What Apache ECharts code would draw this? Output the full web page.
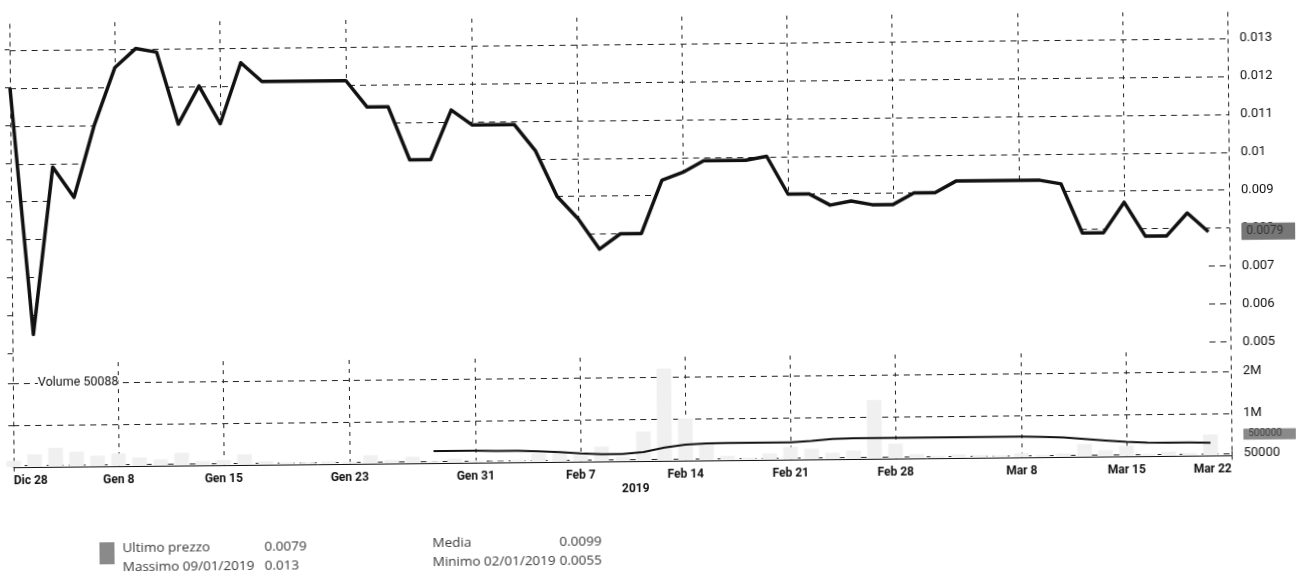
<!DOCTYPE html>
<html>
<head>
<meta charset="utf-8">
<script src="https://cdn.jsdelivr.net/npm/echarts@6/dist/echarts.min.js"></script>
<style>
  html, body { margin: 0; padding: 0; background: #fff; overflow: hidden; }
  /* the scanned original is slightly tilted */
  #chart { width: 1296px; height: 587px; transform: rotate(-0.56deg); transform-origin: 50% 50%; }
</style>
</head>
<body>
<div id="chart"></div>
<script>
// trading days shown on the category axis
const dates = [
  'Dic 28', 'Gen 2', 'Gen 3', 'Gen 4', 'Gen 7', 'Gen 8', 'Gen 9', 'Gen 10', 'Gen 11',
  'Gen 14', 'Gen 15', 'Gen 16', 'Gen 17', 'Gen 18', 'Gen 21', 'Gen 22', 'Gen 23', 'Gen 24',
  'Gen 25', 'Gen 28', 'Gen 29', 'Gen 30', 'Gen 31', 'Feb 1', 'Feb 4', 'Feb 5', 'Feb 6',
  'Feb 7', 'Feb 8', 'Feb 11', 'Feb 12', 'Feb 13', 'Feb 14', 'Feb 15', 'Feb 18', 'Feb 19',
  'Feb 20', 'Feb 21', 'Feb 22', 'Feb 25', 'Feb 26', 'Feb 27', 'Feb 28', 'Mar 1', 'Mar 4',
  'Mar 5', 'Mar 6', 'Mar 7', 'Mar 8', 'Mar 11', 'Mar 12', 'Mar 13', 'Mar 14', 'Mar 15',
  'Mar 18', 'Mar 19', 'Mar 20', 'Mar 21', 'Mar 22'
];

const prices = [
  0.0120, 0.0055, 0.0099, 0.0091, 0.0110, 0.0125, 0.0130, 0.0129, 0.0110,
  0.0120, 0.0110, 0.0126, 0.0121, 0.0121, 0.0121, 0.0121, 0.0121, 0.0114,
  0.0114, 0.0100, 0.0100, 0.0113, 0.0109, 0.0109, 0.0109, 0.0102, 0.0090,
  0.0084, 0.0076, 0.0080, 0.0080, 0.0094, 0.0096, 0.0099, 0.0099, 0.0099,
  0.0100, 0.0090, 0.0090, 0.0087, 0.0088, 0.0087, 0.0087, 0.0090, 0.0090,
  0.0093, 0.0093, 0.0093, 0.0093, 0.0093, 0.0092, 0.0079, 0.0079, 0.0087,
  0.0078, 0.0078, 0.0084, 0.0079, null
];

const volumes = [
  150000, 300000, 450000, 350000, 250000, 300000, 200000, 150000, 300000,
  100000, 120000, 250000, 80000, 50000, 40000, 60000, 50000, 200000,
  80000, 150000, 40000, 100000, 50000, 30000, 50000, 200000, 250000,
  150000, 350000, 100000, 700000, 2200000, 1000000, 400000, 100000, 50000,
  150000, 300000, 250000, 150000, 200000, 1400000, 350000, 100000, 50000,
  80000, 60000, 50000, 100000, 50000, 80000, 300000, 150000, 250000,
  50000, 100000, 60000, 500000, null
];

const volumeAvg = [
  null, null, null, null, null, null, null, null, null,
  null, null, null, null, null, null, null, null, null,
  null, null, 280000, 280000, 280000, 270000, 270000, 250000, 230000,
  190000, 170000, 170000, 210000, 310000, 380000, 400000, 410000, 410000,
  410000, 410000, 440000, 480000, 490000, 490000, 490000, 490000, 490000,
  490000, 490000, 490000, 490000, 480000, 460000, 420000, 380000, 340000,
  320000, 310000, 310000, 300000, null
];

const labelDays = ['Dic 28', 'Gen 8', 'Gen 15', 'Gen 23', 'Gen 31', 'Feb 7', 'Feb 14',
  'Feb 21', 'Feb 28', 'Mar 8', 'Mar 15', 'Mar 22'];
const priceTicks = [0.005, 0.006, 0.007, 0.008, 0.009, 0.01, 0.011, 0.012, 0.013];
const volumeTicks = [50000, 1000000, 2000000];
const lastPrice = 0.0079;
const lastVolume = volumes[57];

const statsLeft = [['Ultimo prezzo', '0.0079'], ['Massimo 09/01/2019', '0.013']];
const statsRight = [['Media', '0.0099'], ['Minimo 02/01/2019', '0.0055']];

const priceRange = [0.0048, 0.0137];
const volumeRange = [-100000, 2480000];

const narrow = '"Liberation Sans Narrow", Roboto, sans-serif';
const isLabelDay = (i) => labelDays.indexOf(dates[i]) >= 0;
const gridRight = 66;

const chart = echarts.init(document.getElementById('chart'));

const dashV = { color: '#222', width: 1, type: [4, 5] };
const crisp = (v) => Math.round(v) + 0.5;
const dashLine = (x1, y1, x2, y2, dash) => ({
  type: 'line', shape: { x1: x1, y1: y1, x2: x2, y2: y2 },
  style: { stroke: '#222', lineWidth: 1, lineDash: dash }
});

// price grid: in the original the grid only shows above the price line
const priceGrid = (params, api) => {
  const last = dates.length - 1;
  const children = [];
  priceTicks.forEach((v) => {
    const y = crisp(api.coord([0, v])[1]);
    const pieces = [];
    for (let k = 0; k < last; k++) {
      const a = prices[k], b = prices[k + 1];
      const xa = api.coord([k, v])[0], xb = api.coord([k + 1, v])[0];
      let t0 = 0, t1 = 1;
      if (a != null && b != null) {
        if (a >= v && b >= v) continue;
        if (a >= v || b >= v) {
          const t = (v - a) / (b - a);
          if (a < v) t1 = t; else t0 = t;
        }
      }
      const p = [xa + (xb - xa) * t0, xa + (xb - xa) * t1];
      const prev = pieces[pieces.length - 1];
      if (prev && Math.abs(prev[1] - p[0]) < 0.01) prev[1] = p[1]; else pieces.push(p);
    }
    pieces.forEach((p) => children.push(dashLine(p[0], y, p[1], y, [6, 5])));
  });
  dates.forEach((d, i) => {
    if (!isLabelDay(i) || i === 0 || i === last) return;
    const x = crisp(api.coord([i, priceRange[0]])[0]);
    const yEnd = prices[i] != null ? api.coord([i, prices[i]])[1] : api.coord([i, priceRange[0]])[1];
    children.push(dashLine(x, api.coord([i, priceRange[1]])[1], x, yEnd, [4, 5]));
  });
  return { type: 'group', children: children };
};

const volumeGrid = (params, api) => {
  const last = dates.length - 1;
  const x1 = api.coord([0, 0])[0];
  const x2 = api.coord([last, 0])[0];
  const children = volumeTicks.map((v) => {
    const y = crisp(api.coord([0, v])[1]);
    return dashLine(x1, y, x2, y, [6, 5]);
  });
  dates.forEach((d, i) => {
    if (!isLabelDay(i) || i === 0 || i === last) return;
    const x = crisp(api.coord([i, 0])[0]);
    children.push(dashLine(x, api.coord([i, volumeRange[1]])[1], x, api.coord([i, volumeRange[0]])[1], [4, 5]));
  });
  return { type: 'group', children: children };
};

const baseGraphics = [
  { type: 'text', left: 37, top: 370, z: 20,
    style: { text: 'Volume 50088', font: '12.5px Roboto', fill: '#111', backgroundColor: '#fff' } },
  { type: 'text', left: 620, top: 483, style: { text: '2019', font: 'bold 12px ' + narrow, fill: '#111' } },
  { type: 'rect', left: 97, top: 537, shape: { width: 15, height: 22 }, style: { fill: '#8a8a8a' } }
];
statsLeft.forEach((row, i) => {
  baseGraphics.push({ type: 'text', left: 120, top: 536 + i * 19, style: { text: row[0], font: '13.5px "Open Sans"', fill: '#3a3a3a' } });
  baseGraphics.push({ type: 'text', left: 262, top: 536 + i * 19, style: { text: row[1], font: '13.5px "Open Sans"', fill: '#3a3a3a' } });
});
statsRight.forEach((row, i) => {
  baseGraphics.push({ type: 'text', left: 430, top: 534 + i * 19, style: { text: row[0], font: '13.5px "Open Sans"', fill: '#3a3a3a' } });
  baseGraphics.push({ type: 'text', left: 557, top: 534 + i * 19, style: { text: row[1], font: '13.5px "Open Sans"', fill: '#3a3a3a' } });
});

const option = {
  animation: false,
  backgroundColor: '#fff',
  grid: [
    { left: 12, right: gridRight, top: 17, height: 338 },
    { left: 12, right: gridRight, top: 357, height: 108 }
  ],
  xAxis: [
    {
      type: 'category', gridIndex: 0, data: dates, boundaryGap: false,
      axisLine: { show: false }, axisTick: { show: false }, axisLabel: { show: false },
      splitLine: { show: false }
    },
    {
      type: 'category', gridIndex: 1, data: dates, boundaryGap: false,
      axisLine: { show: true, lineStyle: { color: '#111', width: 1 } },
      axisTick: { show: true, inside: true, length: 4, interval: isLabelDay, lineStyle: { color: '#111' } },
      axisLabel: {
        interval: isLabelDay, margin: 4, color: '#111', fontFamily: narrow, fontSize: 12,
        fontWeight: 'bold', alignMinLabel: 'left', alignMaxLabel: 'right'
      },
      splitLine: { show: false }
    }
  ],
  yAxis: [
    {
      type: 'value', gridIndex: 0, position: 'right', min: priceRange[0], max: priceRange[1],
      axisLine: { show: true, lineStyle: dashV },
      axisTick: { show: false, customValues: priceTicks },
      axisLabel: { customValues: priceTicks, margin: 12, color: '#111', fontFamily: narrow, fontSize: 13,
        formatter: (v) => String(+v.toFixed(3)) },
      splitLine: { show: false }
    },
    {
      type: 'value', gridIndex: 0, position: 'left', min: priceRange[0], max: priceRange[1],
      axisLine: { show: true, lineStyle: dashV },
      axisTick: { show: true, length: 5, customValues: priceTicks, lineStyle: { color: '#222' } },
      axisLabel: { show: false }, splitLine: { show: false }
    },
    {
      type: 'value', gridIndex: 1, position: 'right', min: volumeRange[0], max: volumeRange[1],
      axisLine: { show: true, lineStyle: dashV },
      axisTick: { show: false, customValues: volumeTicks },
      axisLabel: { customValues: volumeTicks, margin: 12, color: '#111', fontFamily: narrow, fontSize: 13,
        formatter: (v) => v >= 1000000 ? (v / 1000000) + 'M' : String(v) },
      splitLine: { show: false }
    },
    {
      type: 'value', gridIndex: 1, position: 'left', min: volumeRange[0], max: volumeRange[1],
      axisLine: { show: true, lineStyle: dashV },
      axisTick: { show: true, length: 5, customValues: volumeTicks, lineStyle: { color: '#222' } },
      axisLabel: { show: false }, splitLine: { show: false }
    }
  ],
  series: [
    {
      name: 'griglia prezzo', type: 'custom', xAxisIndex: 0, yAxisIndex: 0, z: 1, silent: true,
      clip: false, data: [[0, priceRange[0]]], renderItem: priceGrid
    },
    {
      name: 'griglia volume', type: 'custom', xAxisIndex: 1, yAxisIndex: 2, z: 1, silent: true,
      clip: false, data: [[0, 0]], renderItem: volumeGrid
    },
    {
      name: 'Prezzo', type: 'line', xAxisIndex: 0, yAxisIndex: 0, data: prices,
      symbol: 'none', z: 5,
      lineStyle: { color: '#111', width: 3.5, join: 'round' }
    },
    {
      name: 'Volume', type: 'bar', xAxisIndex: 1, yAxisIndex: 2, data: volumes, z: 3,
      barWidth: '70%', itemStyle: { color: '#f0f0f0' }
    },
    {
      name: 'Media volume', type: 'line', xAxisIndex: 1, yAxisIndex: 2, data: volumeAvg, z: 4,
      symbol: 'none', lineStyle: { color: '#111', width: 2 }
    }
  ],
  graphic: baseGraphics
};

chart.setOption(option);

// current-value boxes on the right axis, placed through the axis scales
const axisX = 1296 - gridRight + 12;
const priceY = chart.convertToPixel({ yAxisIndex: 0 }, lastPrice);
const volY = chart.convertToPixel({ yAxisIndex: 2 }, lastVolume);
chart.setOption({
  graphic: baseGraphics.concat([
    { type: 'text', x: axisX, y: priceY, z: 30,
      style: { text: String(lastPrice), font: '12px ' + narrow, fill: '#333', backgroundColor: '#777',
        padding: [3, 14, 2, 5], verticalAlign: 'middle' } },
    { type: 'text', x: axisX, y: volY, z: 30,
      style: { text: String(lastVolume), font: '10px ' + narrow, fill: '#444', backgroundColor: '#8a8a8a',
        padding: [1, 14, 0, 5], verticalAlign: 'middle' } }
  ])
});
</script>
</body>
</html>
